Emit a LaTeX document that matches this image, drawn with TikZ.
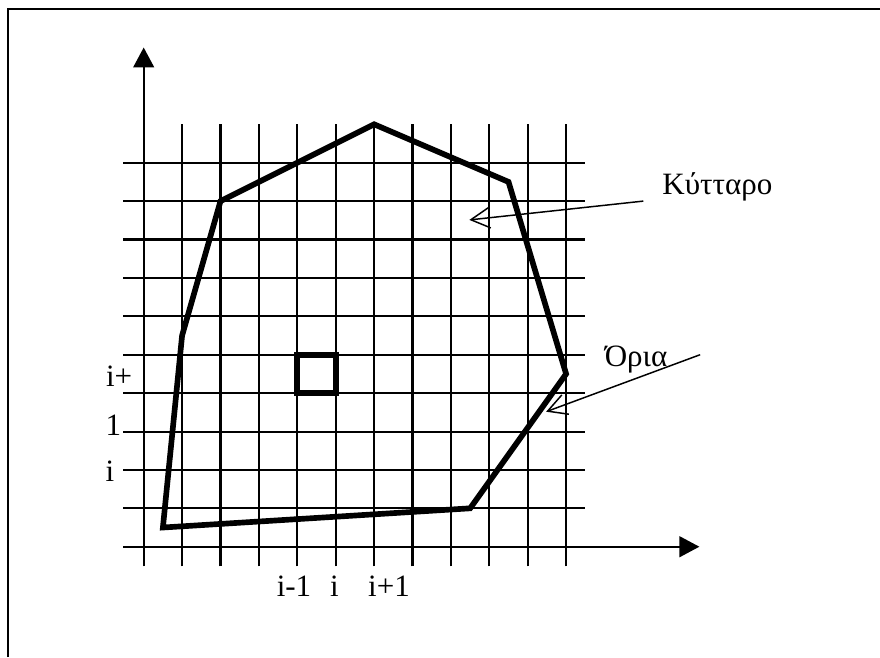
\documentclass[tikz,border=0pt]{standalone}
\usepackage{fontspec}
\setmainfont{Liberation Serif}
\usetikzlibrary{arrows.meta}
\tikzset{
  axis/.style={line width=0.75pt, -{Triangle[length=7.4pt,width=7.7pt]}},
  cell/.style={line width=2.1pt},
  pointer/.style={line width=0.55pt, -{Straight Barb[length=7pt,width=7.6pt]}},
  lbl/.style={font=\fontsize{11.5}{13}\selectfont, inner sep=0pt}
}
\begin{document}
\begin{tikzpicture}[scale=0.5, line width=0.75pt]
  \useasboundingbox (-3.742,-2.872) rectangle (19.174,14.237);
  \draw (-3.521,-2.872) -- (-3.521,13.99) -- (19.174,13.99);
  \foreach \x in {1,...,11} \draw (\x,-0.51) -- (\x,11);
  \foreach \y in {1,...,10} \draw (-0.53,\y) -- (11.5,\y);
  \draw[axis] (0,-0.51) -- (0,13.0);
  \draw[axis] (-0.53,0) -- (14.47,0);
  \draw[cell] (6,11) -- (9.5,9.5) -- (11,4.5) -- (8.5,1) -- (0.5,0.5) -- (1,5.5) -- (2,9) -- cycle;
  \draw[cell] (4,4) rectangle (5,5);
  \node[lbl, anchor=base] (cyt) at (14.94,9.16) {Κύτταρο};
  \node[lbl, anchor=base] (ori) at (12.82,4.69) {Όρια};
  \coordinate (cyttail) at (13.01,9.0);
  \coordinate (cythead) at (8.48,8.51);
  \coordinate (oritail) at (14.49,5.0);
  \coordinate (orihead) at (10.48,3.516);
  \draw[pointer] (cyttail) -- (cythead);
  \draw[pointer] (oritail) -- (orihead);
  \node[lbl, anchor=base west] (iplus) at (-1.008,4.167) {i+};
  \node[lbl, anchor=base] (one) at (-0.79,2.909) {1};
  \node[lbl, anchor=base] (irow) at (-0.878,1.693) {i};
  \node[lbl, anchor=base] (imin) at (3.914,-1.302) {i-1};
  \node[lbl, anchor=base] (icol) at (4.969,-1.302) {i};
  \node[lbl, anchor=base] (iadd) at (6.388,-1.302) {i+1};
\end{tikzpicture}
\end{document}
